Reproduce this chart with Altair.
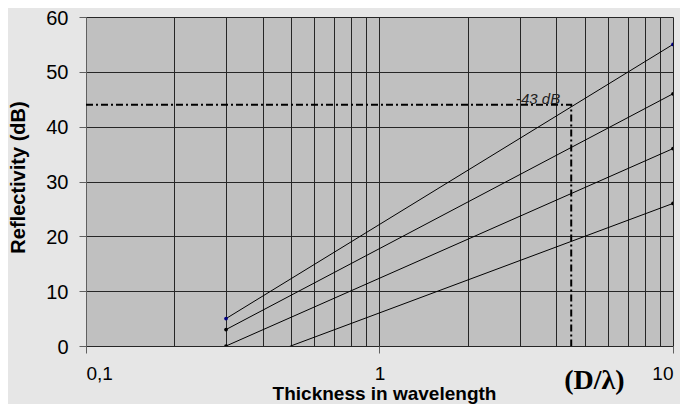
import altair as alt
import pandas as pd

# ---- data ----
series = ["A", "B", "C", "D"]
thickness = [0.3, 10]
refl_A = [5, 55]
refl_B = [3, 46]
refl_C = [0, 36]
refl_D = [-4.4, 26]

guide_x = [0.1, 4.5, 4.5]
guide_y = [44, 44, 0]

grid_x = [0.1, 0.2, 0.3, 0.4, 0.5, 0.6, 0.7, 0.8, 0.9,
          1, 2, 3, 4, 5, 6, 7, 8, 9, 10]
grid_y = [0, 10, 20, 30, 40, 50, 60]

label_text = ["-43 dB"]
label_x = [3.47]
label_y = [45.0]

unit_text = ["(D/λ)"]
unit_x = [5.4]
unit_y = [-6.4]

rows = []
for s, vals in zip(series, [refl_A, refl_B, refl_C, refl_D]):
    for t, v in zip(thickness, vals):
        rows.append({"series": s, "thickness": t, "refl": v})
df = pd.DataFrame(rows)

guide_df = pd.DataFrame({"x": guide_x, "y": guide_y, "o": list(range(len(guide_x)))})
label_df = pd.DataFrame({"x": label_x, "y": label_y, "t": label_text})
unit_df = pd.DataFrame({"x": unit_x, "y": unit_y, "t": unit_text})

FONT = "Liberation Sans"
GRID = "#262626"

xscale = alt.Scale(type="log", domain=[0.1, 10])
yscale = alt.Scale(domain=[0, 60])

major = "datum.value==0.1||datum.value==1||datum.value==10"

x_axis = alt.Axis(
    values=grid_x,
    labelExpr="datum.value==0.1?'0,1':datum.value==1?'1':datum.value==10?'10':''",
    labelOverlap=False,
    labelFont=FONT, labelFontSize=19, labelColor="black", labelPadding=11,
    tickSize=7, tickColor="#606060",
    tickOpacity={"condition": {"test": major, "value": 1}, "value": 0},
    grid=True, gridColor=GRID, gridWidth=1,
    domain=False,
    title="Thickness in wavelength",
    titleFont=FONT, titleFontSize=19, titleFontWeight="bold", titleColor="black",
    titleBaseline="alphabetic", titleX=298, titleY=53,
)
y_axis = alt.Axis(
    values=grid_y,
    labelFont=FONT, labelFontSize=20, labelColor="black", labelPadding=11,
    labelOffset=1,
    tickSize=7, tickColor="#606060",
    grid=True, gridColor=GRID, gridWidth=1,
    domainColor="#606060",
    title="Reflectivity (dB)",
    titleFont=FONT, titleFontSize=20, titleFontWeight="bold", titleColor="black",
    titleX=-58, titleY=160,
)

base = alt.Chart(df)

lines = base.mark_line(color="black", strokeWidth=1, clip=True).encode(
    x=alt.X("thickness:Q", scale=xscale, axis=x_axis),
    y=alt.Y("refl:Q", scale=yscale, axis=y_axis),
    detail="series:N",
)
points = base.mark_point(filled=True, size=14, opacity=1, clip=True).encode(
    x=alt.X("thickness:Q", scale=xscale),
    y=alt.Y("refl:Q", scale=yscale),
    color=alt.Color("series:N", scale=alt.Scale(domain=series,
                    range=["#000080", "black", "black", "black"]), legend=None),
)
guide = alt.Chart(guide_df).mark_line(color="black", strokeWidth=2,
                                      strokeDash=[7, 3, 2, 3]).encode(
    x=alt.X("x:Q", scale=xscale),
    y=alt.Y("y:Q", scale=yscale),
    order="o:Q",
)
label = alt.Chart(label_df).mark_text(font=FONT, fontSize=15, fontStyle="italic",
                                      color="#202020", baseline="middle").encode(
    x=alt.X("x:Q", scale=xscale),
    y=alt.Y("y:Q", scale=yscale),
    text="t:N",
)
unit = alt.Chart(unit_df).mark_text(font="Liberation Serif", fontSize=28, fontWeight="bold",
                                    color="black", baseline="middle").encode(
    x=alt.X("x:Q", scale=xscale),
    y=alt.Y("y:Q", scale=yscale),
    text="t:N",
)

chart = alt.layer(lines, guide, points, label, unit).properties(
    width=587, height=329,
    background="#e6e6e6",
    padding={"left": 78, "top": 9, "right": 7, "bottom": 58},
    autosize=alt.AutoSizeParams(type="none"),
).configure_view(fill="#c0c0c0", stroke=None)

chart.save("out.html", embed_options={"renderer": "svg", "actions": False})
